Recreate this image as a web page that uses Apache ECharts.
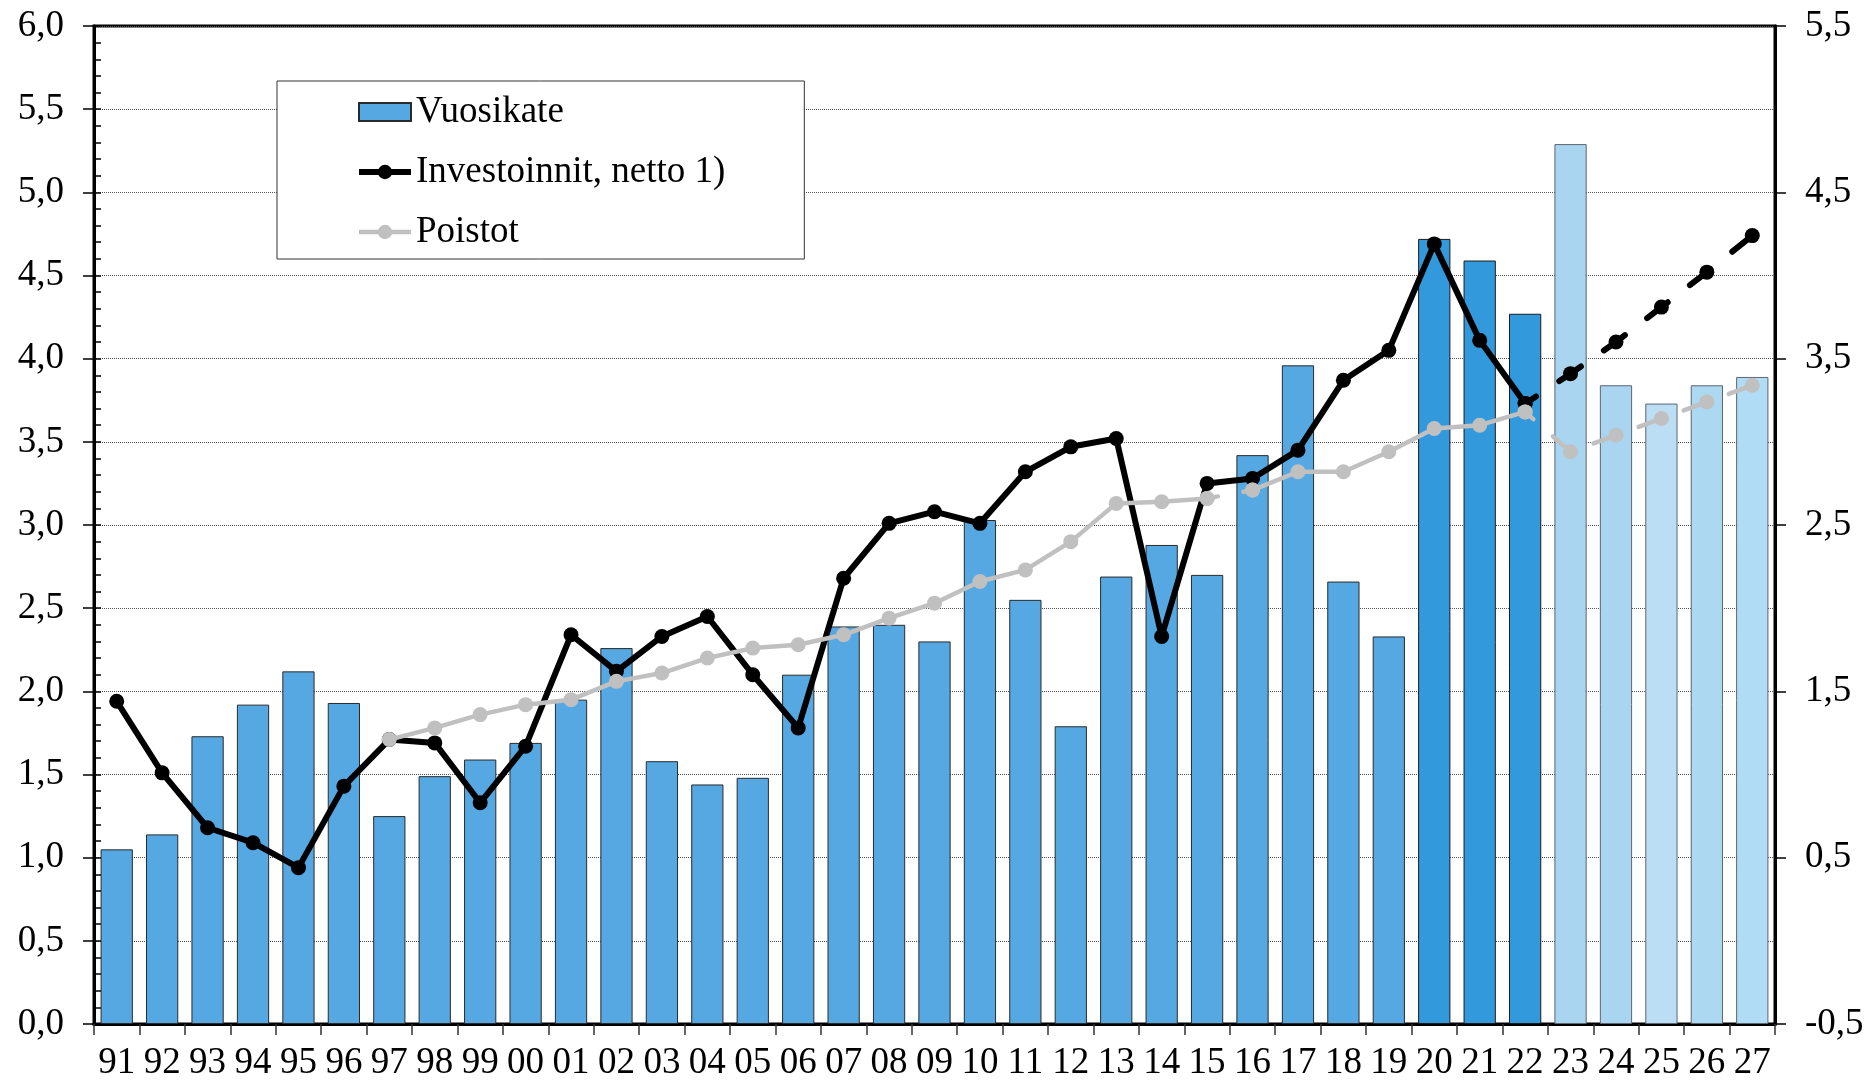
<!DOCTYPE html>
<html>
<head>
<meta charset="utf-8">
<script src="https://cdn.jsdelivr.net/npm/echarts@6/dist/echarts.min.js"></script>
<style>
html,body{margin:0;padding:0;background:#fff;}
#chart{width:1870px;height:1082px;}
</style>
</head>
<body>
<div id="chart"></div>
<script>
// ---- data ----
var categories = ['91','92','93','94','95','96','97','98','99','00','01','02','03','04','05','06','07','08','09','10','11','12','13','14','15','16','17','18','19','20','21','22','23','24','25','26','27'];
var vuosikate = [1.05,1.14,1.73,1.92,2.12,1.93,1.25,1.49,1.59,1.69,1.95,2.26,1.58,1.44,1.48,2.10,2.39,2.40,2.30,3.03,2.55,1.79,2.69,2.88,2.70,3.42,3.96,2.66,2.33,4.72,4.59,4.27,5.29,3.84,3.73,3.84,3.89];
var investoinnit = [1.94,1.51,1.18,1.09,0.94,1.43,1.71,1.69,1.33,1.67,2.34,2.12,2.33,2.45,2.10,1.78,2.68,3.01,3.08,3.01,3.32,3.47,3.52,2.33,3.25,3.28,3.45,3.87,4.05,4.69,4.11,3.73,3.91,4.10,4.31,4.52,4.74];
// Poistot from 97 onwards (null before)
var poistot = [null,null,null,null,null,null,1.71,1.78,1.86,1.92,1.95,2.06,2.11,2.20,2.26,2.28,2.34,2.44,2.53,2.66,2.73,2.90,3.13,3.14,3.16,3.21,3.32,3.32,3.44,3.58,3.60,3.68,3.44,3.54,3.64,3.74,3.84];
var leftTicks = ['0,0','0,5','1,0','1,5','2,0','2,5','3,0','3,5','4,0','4,5','5,0','5,5','6,0'];
var rightTicks = ['-0,5','0,5','1,5','2,5','3,5','4,5','5,5'];
var seriesNames = ['Vuosikate','Investoinnit, netto 1)','Poistot'];

// ---- helpers (styling by index) ----
var FONT = 'Liberation Serif';
var lastActual = categories.indexOf('22');
var firstDark = categories.indexOf('20');
var gapStart = categories.indexOf('15'); // Poistot dashed 15->16
var lightColors = ['#a9d5f0','#a9d5f0','#bbdef4','#acd8f2','#b1dcf5'];

function barItem(v, i) {
  var c = '#55a8e2', b = '#2a2a2a';
  if (i >= firstDark && i <= lastActual) { c = '#3399dd'; b = '#1a1a1a'; }
  if (i > lastActual) { c = lightColors[i - lastActual - 1]; b = '#5a6670'; }
  return { value: v, itemStyle: { color: c, borderColor: b, borderWidth: 1 } };
}
function pick(arr, from, to) {
  return arr.map(function (v, i) { return (i >= from && i <= to) ? v : null; });
}
function pickSet(arr, ranges) {
  return arr.map(function (v, i) {
    for (var k = 0; k < ranges.length; k++) if (i >= ranges[k][0] && i <= ranges[k][1]) return v;
    return null;
  });
}
var n = categories.length;
var firstPoistot = poistot.findIndex(function (v) { return v != null; });

var chart = echarts.init(document.getElementById('chart'), null, { renderer: 'canvas' });
var blackLine = { color: '#000', width: 6 };
var grayLine = { color: '#c0c0c0', width: 4.5 };
var LS = 37;

chart.setOption({
  animation: false,
  backgroundColor: '#fff',
  textStyle: { fontFamily: FONT },
  grid: { left: 94, right: 95, top: 26, bottom: 58, show: true, borderColor: '#000', borderWidth: 3, backgroundColor: 'transparent' },
  legend: {
    data: [
      { name: seriesNames[0], icon: 'rect' },
      { name: seriesNames[1], lineStyle: { width: 6 } },
      { name: seriesNames[2], lineStyle: { width: 4.5 } }
    ],
    orient: 'vertical',
    left: 277, top: 81,
    padding: [11, 79, 7, 79],
    itemWidth: 52, itemHeight: 18, itemGap: 20,
    borderColor: '#333', borderWidth: 1,
    backgroundColor: '#fff',
    textStyle: { fontFamily: FONT, fontSize: 37, color: '#000', lineHeight: 40 },
    selectedMode: false
  },
  xAxis: [{
    type: 'category', data: categories, boundaryGap: true,
    axisLine: { show: true, lineStyle: { color: '#000', width: 3 } },
    axisTick: { show: true, alignWithLabel: false, length: 11, lineStyle: { color: '#333', width: 1.5 } },
    axisLabel: { fontFamily: FONT, fontSize: LS, color: '#000', margin: 21, interval: 0 },
    splitLine: { show: false }
  }],
  yAxis: [{
    type: 'value', min: 0, max: 6, interval: 0.5, position: 'left',
    axisLine: { show: true, lineStyle: { color: '#000', width: 3 } },
    axisTick: { show: true, length: 11, lineStyle: { color: '#000', width: 1.5 } },
    axisLabel: { fontFamily: FONT, fontSize: LS, color: '#000', margin: 30,
      formatter: function (v) { return leftTicks[Math.round(v / 0.5)]; } },
    splitLine: { show: true, lineStyle: { color: '#555', width: 1, type: 'dotted' } }
  }, {
    type: 'value', min: 0, max: 6, interval: 1, position: 'right',
    axisLine: { show: true, lineStyle: { color: '#000', width: 3 } },
    axisTick: { show: true, length: 11, lineStyle: { color: '#000', width: 1.5 } },
    axisLabel: { fontFamily: FONT, fontSize: LS, color: '#000', margin: 30,
      formatter: function (v) { return rightTicks[Math.round(v)]; } },
    splitLine: { show: false }
  }, {
    type: 'value', min: 0, max: 60, interval: 1, position: 'left',
    axisLine: { show: false },
    axisTick: { show: true, inside: true, length: 7, lineStyle: { color: '#000', width: 1.5 } },
    axisLabel: { show: false },
    splitLine: { show: false }
  }],
  series: [{
    name: 'Vuosikate', type: 'bar', barWidth: '71%', yAxisIndex: 0,
    itemStyle: { color: '#55a8e2', borderColor: '#2a2a2a', borderWidth: 1 },
    data: vuosikate.map(barItem), z: 2
  }, {
    name: 'Investoinnit, netto 1)', type: 'line', yAxisIndex: 0,
    data: pick(investoinnit, 0, lastActual),
    symbol: 'circle', symbolSize: 15, showSymbol: true,
    itemStyle: { color: '#000' }, lineStyle: blackLine, z: 3
  }, {
    name: 'Investoinnit ennuste', type: 'line', yAxisIndex: 0,
    data: pick(investoinnit, lastActual, n - 1),
    symbol: 'circle', symbolSize: 15,
    itemStyle: { color: '#000' },
    lineStyle: { color: '#000', width: 6, type: [26, 28], dashOffset: 13, cap: 'round' }, z: 3
  }, {
    name: 'Poistot', type: 'line', yAxisIndex: 0,
    data: pick(poistot, firstPoistot, gapStart),
    symbol: 'circle', symbolSize: 15,
    itemStyle: { color: '#c0c0c0' }, lineStyle: grayLine, z: 4
  }, {
    name: 'Poistot b', type: 'line', yAxisIndex: 0,
    data: pick(poistot, gapStart + 1, lastActual),
    symbol: 'circle', symbolSize: 15,
    itemStyle: { color: '#c0c0c0' }, lineStyle: grayLine, z: 4
  }, {
    name: 'Poistot ennuste', type: 'line', yAxisIndex: 0, connectNulls: false,
    data: pickSet(poistot, [[gapStart, gapStart + 1], [lastActual, n - 1]]),
    symbol: 'circle', symbolSize: 15,
    itemStyle: { color: '#c0c0c0' },
    lineStyle: { color: '#c0c0c0', width: 4.5, type: [22, 26], dashOffset: 11, cap: 'round' }, z: 4
  }]
});
</script>
</body>
</html>
